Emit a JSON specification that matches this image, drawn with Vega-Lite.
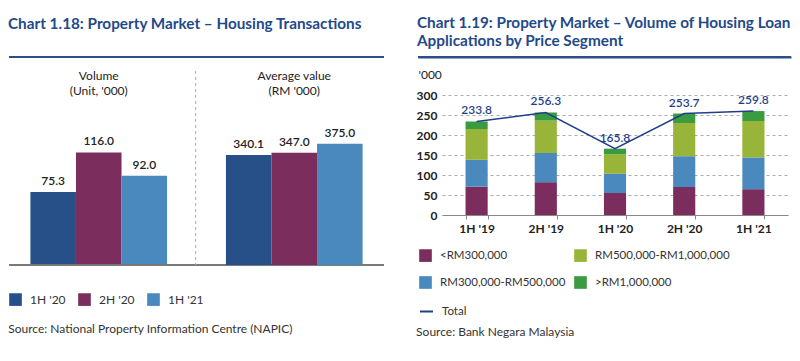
{
  "$schema": "https://vega.github.io/schema/vega-lite/v6.json",
  "background": "white",
  "padding": {"left": 8, "top": 16, "right": 2, "bottom": 2},
  "config": {
    "font": "Lato",
    "view": {"stroke": null},
    "title": {"font": "Lato"},
    "axis": {"labelFont": "Lato", "titleFont": "Lato"},
    "legend": {"labelFont": "Lato"}
  },
  "resolve": {"scale": {"color": "independent", "stroke": "independent"}, "legend": {"color": "independent", "stroke": "independent"}},
  "spacing": 31,
  "hconcat": [
    {
      "spacing": 11,
      "vconcat": [
        {
          "title": {"text": "Chart 1.18: Property Market – Housing Transactions", "anchor": "start", "offset": 24, "fontSize": 15.3, "fontWeight": "bold", "color": "#1f4a8a"},
          "width": 375,
          "height": 1,
          "data": {"values": [{"element": "chart 1.18 underline"}]},
          "mark": {"type": "rule", "color": "#2c4f8c", "strokeWidth": 2},
          "encoding": {"y": {"datum": 0, "scale": {"domain": [0, 1]}, "axis": null}}
        },
        {
          "width": 375,
          "height": 194,
          "title": {"text": "Source: National Property Information Centre (NAPIC)", "orient": "bottom", "anchor": "start", "offset": 58, "fontSize": 12, "fontWeight": "normal", "color": "#333333"},
          "data": {"values": [
            {"measure": "Volume", "period": "1H '20", "value": 75.3},
            {"measure": "Volume", "period": "2H '20", "value": 116.0},
            {"measure": "Volume", "period": "1H '21", "value": 92.0},
            {"measure": "Average value", "period": "1H '20", "value": 340.1},
            {"measure": "Average value", "period": "2H '20", "value": 347.0},
            {"measure": "Average value", "period": "1H '21", "value": 375.0}
          ]},
          "layer": [
            {
              "transform": [{"filter": "datum.measure == 'Volume'"}],
              "layer": [
                {
                  "mark": {"type": "bar"},
                  "encoding": {
                    "x": {"field": "measure", "type": "nominal", "sort": ["Volume", "Average value"], "scale": {"paddingInner": 0.082, "paddingOuter": 0}, "axis": {"orient": "top", "offset": -11, "domain": false, "ticks": false, "labelPadding": 0, "labelAngle": 0, "labelFontSize": 12, "labelColor": "#222222", "labelLineHeight": 15, "title": null, "labelExpr": "datum.value == 'Volume' ? ['Volume', \"(Unit, '000)\"] : ['Average value', \"(RM '000)\"]"}},
                    "xOffset": {"field": "period", "type": "nominal", "sort": ["1H '20", "2H '20", "1H '21"], "scale": {"paddingInner": 0, "paddingOuter": 0.47}},
                    "y": {"field": "value", "type": "quantitative", "scale": {"domain": [0, 200]}, "axis": null},
                    "color": {"field": "period", "type": "nominal", "sort": ["1H '20", "2H '20", "1H '21"], "scale": {"domain": ["1H '20", "2H '20", "1H '21"], "range": ["#274f88", "#7b2e5e", "#4a89bd"]}, "legend": {"orient": "none", "legendX": 0, "legendY": 237, "direction": "horizontal", "title": null, "symbolType": "square", "symbolSize": 160, "symbolStrokeWidth": 0, "labelFontSize": 12, "labelColor": "#333333", "columnPadding": 12, "labelOffset": 8}}
                  }
                },
                {
                  "mark": {"type": "text", "dy": -11, "fontSize": 12, "fontWeight": 600, "color": "#222222"},
                  "encoding": {
                    "x": {"field": "measure", "type": "nominal", "sort": ["Volume", "Average value"]},
                    "xOffset": {"field": "period", "type": "nominal", "sort": ["1H '20", "2H '20", "1H '21"]},
                    "y": {"field": "value", "type": "quantitative", "axis": null},
                    "text": {"field": "value", "type": "quantitative", "format": ".1f"}
                  }
                },
                {
                  "mark": {"type": "rule", "color": "#777777", "strokeWidth": 1.5},
                  "encoding": {"y": {"datum": 0, "axis": null}}
                }
              ]
            },
            {
              "transform": [{"filter": "datum.measure == 'Average value'"}],
              "layer": [
                {
                  "mark": {"type": "bar"},
                  "encoding": {
                    "x": {"field": "measure", "type": "nominal", "sort": ["Volume", "Average value"]},
                    "xOffset": {"field": "period", "type": "nominal", "sort": ["1H '20", "2H '20", "1H '21"]},
                    "y": {"field": "value", "type": "quantitative", "scale": {"domain": [0, 564]}, "axis": null},
                    "color": {"field": "period", "type": "nominal", "sort": ["1H '20", "2H '20", "1H '21"]}
                  }
                },
                {
                  "mark": {"type": "text", "dy": -11, "fontSize": 12, "fontWeight": 600, "color": "#222222"},
                  "encoding": {
                    "x": {"field": "measure", "type": "nominal", "sort": ["Volume", "Average value"]},
                    "xOffset": {"field": "period", "type": "nominal", "sort": ["1H '20", "2H '20", "1H '21"]},
                    "y": {"field": "value", "type": "quantitative", "axis": null},
                    "text": {"field": "value", "type": "quantitative", "format": ".1f"}
                  }
                }
              ]
            },
            {
              "transform": [{"filter": "datum.measure == 'Volume' && datum.period == \"1H '20\""}],
              "mark": {"type": "rule", "color": "#aaaaaa", "strokeDash": [3, 3], "strokeWidth": 1},
              "encoding": {
                "x": {"field": "measure", "type": "nominal", "sort": ["Volume", "Average value"], "bandPosition": 1.04}
              }
            }
          ],
          "resolve": {"scale": {"y": "independent"}}
        }
      ]
    },
    {
      "spacing": 10,
      "resolve": {"scale": {"x": "independent", "y": "independent"}},
      "vconcat": [
        {
          "title": {"text": "Chart 1.19: Property Market – Volume of Housing Loan", "subtitle": "Applications by Price Segment", "anchor": "start", "offset": 7, "fontSize": 15.3, "fontWeight": "bold", "color": "#1f4a8a", "subtitleFont": "Lato", "subtitleFontSize": 15.3, "subtitleFontWeight": "bold", "subtitleColor": "#1f4a8a", "subtitlePadding": 2},
          "width": 373,
          "height": 1,
          "data": {"values": [{"element": "chart 1.19 underline"}]},
          "layer": [
            {
              "mark": {"type": "rule", "color": "#2c4f8c", "strokeWidth": 2},
              "encoding": {"y": {"datum": 0, "scale": {"domain": [0, 1]}, "axis": null}}
            },
            {
              "mark": {"type": "rule", "opacity": 0},
              "encoding": {"x": {"datum": 0, "type": "quantitative", "scale": {"domain": [0, 1]}, "axis": {"orient": "bottom", "domainColor": "#2c4f8c", "domainWidth": 2, "ticks": false, "labels": false, "grid": false, "title": null}}}
            }
          ]
        },
        {
          "width": 370,
          "height": 120,
          "title": {"text": "Source: Bank Negara Malaysia", "orient": "bottom", "anchor": "start", "offset": 93, "fontSize": 12, "fontWeight": "normal", "color": "#333333"},
          "data": {"values": [
            {"period": "1H '19", "segment": "<RM300,000", "lower": 0, "value": 71},
            {"period": "1H '19", "segment": "RM300,000-RM500,000", "lower": 300000, "value": 67},
            {"period": "1H '19", "segment": "RM500,000-RM1,000,000", "lower": 500000, "value": 77},
            {"period": "1H '19", "segment": ">RM1,000,000", "lower": 1000000, "value": 18.8},
            {"period": "2H '19", "segment": "<RM300,000", "lower": 0, "value": 82},
            {"period": "2H '19", "segment": "RM300,000-RM500,000", "lower": 300000, "value": 73},
            {"period": "2H '19", "segment": "RM500,000-RM1,000,000", "lower": 500000, "value": 81},
            {"period": "2H '19", "segment": ">RM1,000,000", "lower": 1000000, "value": 20.3},
            {"period": "1H '20", "segment": "<RM300,000", "lower": 0, "value": 55},
            {"period": "1H '20", "segment": "RM300,000-RM500,000", "lower": 300000, "value": 48},
            {"period": "1H '20", "segment": "RM500,000-RM1,000,000", "lower": 500000, "value": 49},
            {"period": "1H '20", "segment": ">RM1,000,000", "lower": 1000000, "value": 13.8},
            {"period": "2H '20", "segment": "<RM300,000", "lower": 0, "value": 70},
            {"period": "2H '20", "segment": "RM300,000-RM500,000", "lower": 300000, "value": 77},
            {"period": "2H '20", "segment": "RM500,000-RM1,000,000", "lower": 500000, "value": 83},
            {"period": "2H '20", "segment": ">RM1,000,000", "lower": 1000000, "value": 23.7},
            {"period": "1H '21", "segment": "<RM300,000", "lower": 0, "value": 64.5},
            {"period": "1H '21", "segment": "RM300,000-RM500,000", "lower": 300000, "value": 79.5},
            {"period": "1H '21", "segment": "RM500,000-RM1,000,000", "lower": 500000, "value": 91},
            {"period": "1H '21", "segment": ">RM1,000,000", "lower": 1000000, "value": 24.8}
          ]},
          "encoding": {
            "x": {"field": "period", "type": "nominal", "sort": null, "scale": {"range": [24, 370], "paddingInner": 0.68, "paddingOuter": 0.34}, "axis": {"title": null, "labelAngle": 0, "domainColor": "#888888", "tickColor": "#888888", "ticks": true, "tickBand": "extent", "tickSize": 4, "labelFontSize": 12, "labelFontWeight": "bold", "labelColor": "#222222", "labelPadding": 4}},
            "y": {"aggregate": "sum", "field": "value", "type": "quantitative", "scale": {"domain": [0, 300]}, "axis": {"offset": -24, "title": "'000", "titleAngle": 0, "titleAlign": "left", "titleBaseline": "middle", "titleX": -24, "titleY": -21, "titleFontWeight": "normal", "titleFontSize": 12, "titleColor": "#222222", "domain": false, "ticks": false, "labelPadding": 5, "labelFontSize": 12, "labelFontWeight": "bold", "labelColor": "#222222", "values": [0, 50, 100, 150, 200, 250, 300], "labelOverlap": false, "grid": true, "gridDash": [3, 3], "gridColor": "#aaaaaa"}}
          },
          "layer": [
            {
              "mark": {"type": "bar"},
              "encoding": {
                "color": {"field": "segment", "type": "nominal", "scale": {"domain": ["<RM300,000", "RM300,000-RM500,000", "RM500,000-RM1,000,000", ">RM1,000,000"], "range": ["#7b2e5e", "#4a89bd", "#98b53a", "#3b9b40"]}, "legend": {"orient": "none", "legendX": 1, "legendY": 193, "columns": 2, "title": null, "symbolType": "square", "symbolSize": 160, "symbolStrokeWidth": 0, "labelFontSize": 11.5, "labelColor": "#333333", "columnPadding": 8, "rowPadding": 14, "labelOffset": 8}},
                "order": {"field": "lower", "type": "quantitative", "sort": "ascending"}
              }
            },
            {
              "mark": {"type": "line", "strokeWidth": 1.5},
              "encoding": {
                "stroke": {"datum": "Total", "type": "nominal", "scale": {"range": ["#1f3f8a"]}, "legend": {"orient": "none", "legendX": 1, "legendY": 248, "title": null, "symbolType": "stroke", "symbolSize": 169, "symbolStrokeWidth": 2, "labelFontSize": 11.5, "labelColor": "#333333", "labelOffset": 8}}
              }
            },
            {
              "mark": {"type": "text", "dy": -11, "fontSize": 12, "fontWeight": 600, "color": "#1f3f8a"},
              "encoding": {
                "text": {"aggregate": "sum", "field": "value", "type": "quantitative", "format": ".1f"}
              }
            }
          ]
        }
      ]
    }
  ]
}
